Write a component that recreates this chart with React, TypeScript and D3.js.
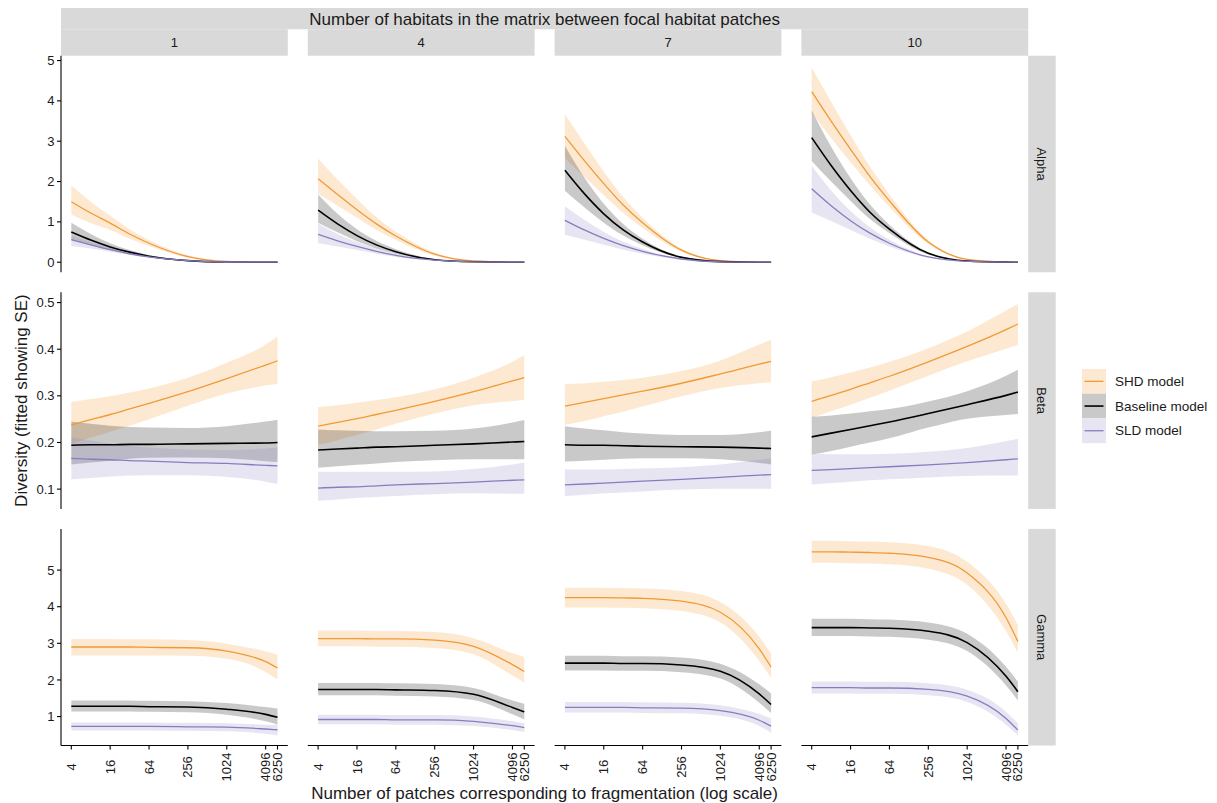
import React from "react";
import * as d3 from "d3";

// ---------------- data ----------------
const PATCHES = [4, 8, 16, 32, 64, 256, 1024, 4096, 6250];
const PATCH_TICKS = [4, 16, 64, 256, 1024, 4096, 6250];
const HABITATS = ["1", "4", "7", "10"];
const METRICS = ["Alpha", "Beta", "Gamma"];
const MODELS = ["SHD model", "Baseline model", "SLD model"];
const ALPHA_TICKS = [0, 1, 2, 3, 4, 5];
const BETA_TICKS = [0.1, 0.2, 0.3, 0.4, 0.5];
const GAMMA_TICKS = [1, 2, 3, 4, 5];

// Alpha — one row per habitat panel (1, 4, 7, 10)
const alphaShdFit = [
  [1.5, 1.22, 0.97, 0.7, 0.47, 0.14, 0.02, 0.0, 0.0],
  [2.07, 1.68, 1.3, 0.95, 0.65, 0.2, 0.03, 0.002, 0.0],
  [3.12, 2.52, 1.95, 1.42, 0.98, 0.3, 0.04, 0.003, 0.0],
  [4.23, 3.5, 2.8, 2.12, 1.52, 0.5, 0.07, 0.005, 0.0],
];
const alphaShdHi = [
  [1.9, 1.5, 1.15, 0.82, 0.55, 0.17, 0.03, 0.0, 0.0],
  [2.57, 2.05, 1.57, 1.12, 0.76, 0.24, 0.04, 0.0, 0.0],
  [3.67, 2.95, 2.25, 1.62, 1.1, 0.34, 0.05, 0.0, 0.0],
  [4.83, 3.98, 3.15, 2.37, 1.68, 0.55, 0.08, 0.006, 0.0],
];
const alphaShdLo = [
  [1.18, 0.97, 0.8, 0.58, 0.4, 0.11, 0.015, 0.0, 0.0],
  [1.7, 1.4, 1.1, 0.8, 0.55, 0.16, 0.02, 0.0, 0.0],
  [2.58, 2.12, 1.66, 1.22, 0.85, 0.26, 0.03, 0.0, 0.0],
  [3.71, 3.08, 2.48, 1.9, 1.37, 0.45, 0.06, 0.004, 0.0],
];
const alphaBaseFit = [
  [0.75, 0.55, 0.38, 0.25, 0.15, 0.04, 0.005, 0.0, 0.0],
  [1.29, 0.95, 0.66, 0.43, 0.26, 0.06, 0.01, 0.0, 0.0],
  [2.28, 1.7, 1.2, 0.8, 0.5, 0.12, 0.015, 0.0, 0.0],
  [3.09, 2.4, 1.78, 1.24, 0.82, 0.22, 0.03, 0.002, 0.0],
];
const alphaBaseHi = [
  [0.98, 0.7, 0.47, 0.3, 0.18, 0.05, 0.01, 0.0, 0.0],
  [1.68, 1.2, 0.82, 0.53, 0.32, 0.08, 0.012, 0.0, 0.0],
  [2.89, 2.1, 1.45, 0.95, 0.58, 0.14, 0.02, 0.0, 0.0],
  [3.76, 2.86, 2.08, 1.43, 0.93, 0.25, 0.035, 0.0, 0.0],
];
const alphaBaseLo = [
  [0.55, 0.42, 0.3, 0.2, 0.12, 0.03, 0.0, 0.0, 0.0],
  [0.98, 0.74, 0.52, 0.34, 0.21, 0.05, 0.008, 0.0, 0.0],
  [1.77, 1.36, 0.98, 0.66, 0.42, 0.1, 0.01, 0.0, 0.0],
  [2.51, 2.0, 1.52, 1.07, 0.72, 0.19, 0.025, 0.0, 0.0],
];
const alphaSldFit = [
  [0.56, 0.43, 0.31, 0.21, 0.13, 0.04, 0.005, 0.0, 0.0],
  [0.69, 0.53, 0.39, 0.27, 0.17, 0.05, 0.008, 0.0, 0.0],
  [1.04, 0.8, 0.59, 0.41, 0.27, 0.08, 0.01, 0.0, 0.0],
  [1.82, 1.4, 1.03, 0.72, 0.47, 0.13, 0.02, 0.0, 0.0],
];
const alphaSldHi = [
  [0.66, 0.5, 0.36, 0.25, 0.15, 0.05, 0.01, 0.0, 0.0],
  [0.96, 0.7, 0.5, 0.34, 0.21, 0.06, 0.01, 0.0, 0.0],
  [1.39, 1.05, 0.75, 0.51, 0.33, 0.09, 0.012, 0.0, 0.0],
  [2.39, 1.78, 1.27, 0.87, 0.56, 0.15, 0.02, 0.0, 0.0],
];
const alphaSldLo = [
  [0.4, 0.34, 0.26, 0.18, 0.11, 0.03, 0.0, 0.0, 0.0],
  [0.47, 0.39, 0.3, 0.21, 0.13, 0.04, 0.005, 0.0, 0.0],
  [0.68, 0.56, 0.43, 0.31, 0.21, 0.06, 0.008, 0.0, 0.0],
  [1.23, 1.02, 0.8, 0.58, 0.39, 0.11, 0.015, 0.0, 0.0],
];

// Beta
const betaShdFit = [
  [0.238, 0.249, 0.26, 0.272, 0.284, 0.309, 0.337, 0.366, 0.375],
  [0.235, 0.243, 0.251, 0.26, 0.269, 0.288, 0.309, 0.332, 0.339],
  [0.278, 0.286, 0.294, 0.302, 0.31, 0.327, 0.347, 0.368, 0.374],
  [0.288, 0.301, 0.314, 0.328, 0.342, 0.373, 0.406, 0.442, 0.454],
];
const betaShdHi = [
  [0.287, 0.293, 0.299, 0.307, 0.316, 0.339, 0.371, 0.41, 0.427],
  [0.276, 0.28, 0.285, 0.291, 0.297, 0.314, 0.339, 0.373, 0.387],
  [0.325, 0.327, 0.33, 0.334, 0.339, 0.353, 0.376, 0.41, 0.42],
  [0.331, 0.34, 0.35, 0.361, 0.373, 0.402, 0.438, 0.483, 0.497],
];
const betaShdLo = [
  [0.197, 0.21, 0.223, 0.236, 0.25, 0.279, 0.305, 0.322, 0.326],
  [0.195, 0.205, 0.216, 0.228, 0.24, 0.262, 0.28, 0.289, 0.291],
  [0.238, 0.246, 0.256, 0.266, 0.277, 0.299, 0.317, 0.327, 0.329],
  [0.253, 0.267, 0.281, 0.296, 0.311, 0.343, 0.374, 0.401, 0.409],
];
const betaBaseFit = [
  [0.194, 0.195, 0.195, 0.196, 0.196, 0.197, 0.198, 0.199, 0.2],
  [0.184, 0.186, 0.188, 0.19, 0.191, 0.194, 0.197, 0.201, 0.202],
  [0.195, 0.194, 0.194, 0.193, 0.192, 0.191, 0.19, 0.188, 0.187],
  [0.212, 0.22, 0.228, 0.236, 0.244, 0.262, 0.281, 0.301, 0.308],
];
const betaBaseHi = [
  [0.245, 0.24, 0.236, 0.233, 0.232, 0.231, 0.235, 0.245, 0.249],
  [0.228, 0.226, 0.225, 0.224, 0.224, 0.225, 0.23, 0.243, 0.248],
  [0.235, 0.23, 0.226, 0.222, 0.219, 0.216, 0.216, 0.222, 0.225],
  [0.255, 0.258, 0.262, 0.267, 0.272, 0.288, 0.31, 0.343, 0.356],
];
const betaBaseLo = [
  [0.153, 0.157, 0.161, 0.165, 0.167, 0.168, 0.166, 0.16, 0.158],
  [0.146, 0.149, 0.152, 0.155, 0.158, 0.162, 0.164, 0.164, 0.164],
  [0.159, 0.161, 0.163, 0.165, 0.166, 0.166, 0.164, 0.156, 0.153],
  [0.174, 0.182, 0.191, 0.2, 0.209, 0.232, 0.251, 0.259, 0.261],
];
const betaSldFit = [
  [0.166, 0.164, 0.163, 0.161, 0.16, 0.157, 0.155, 0.151, 0.15],
  [0.102, 0.104, 0.105, 0.107, 0.109, 0.112, 0.115, 0.119, 0.12],
  [0.109, 0.111, 0.113, 0.115, 0.117, 0.121, 0.125, 0.13, 0.131],
  [0.14, 0.142, 0.144, 0.146, 0.148, 0.152, 0.157, 0.163, 0.165],
];
const betaSldHi = [
  [0.211, 0.204, 0.198, 0.193, 0.189, 0.185, 0.184, 0.187, 0.189],
  [0.137, 0.137, 0.137, 0.137, 0.137, 0.138, 0.143, 0.153, 0.157],
  [0.142, 0.142, 0.142, 0.143, 0.144, 0.147, 0.153, 0.163, 0.166],
  [0.176, 0.175, 0.175, 0.175, 0.176, 0.18, 0.188, 0.203, 0.208],
];
const betaSldLo = [
  [0.121, 0.124, 0.127, 0.129, 0.13, 0.13, 0.126, 0.116, 0.111],
  [0.075, 0.078, 0.081, 0.083, 0.085, 0.089, 0.091, 0.09, 0.09],
  [0.085, 0.088, 0.091, 0.093, 0.095, 0.099, 0.101, 0.101, 0.101],
  [0.11, 0.113, 0.116, 0.119, 0.121, 0.125, 0.128, 0.129, 0.129],
];

// Gamma
const gammaShdFit = [
  [2.9, 2.9, 2.9, 2.9, 2.89, 2.88, 2.79, 2.5, 2.33],
  [3.13, 3.13, 3.13, 3.12, 3.12, 3.09, 2.92, 2.42, 2.23],
  [4.25, 4.25, 4.25, 4.24, 4.23, 4.15, 3.85, 2.85, 2.35],
  [5.5, 5.5, 5.49, 5.48, 5.46, 5.35, 4.92, 3.7, 3.05],
];
const gammaShdHi = [
  [3.12, 3.12, 3.12, 3.11, 3.11, 3.09, 2.99, 2.78, 2.69],
  [3.35, 3.35, 3.35, 3.34, 3.34, 3.31, 3.14, 2.73, 2.63],
  [4.52, 4.52, 4.52, 4.51, 4.5, 4.43, 4.13, 3.18, 2.72],
  [5.8, 5.8, 5.79, 5.78, 5.76, 5.66, 5.23, 4.08, 3.49],
];
const gammaShdLo = [
  [2.67, 2.67, 2.67, 2.67, 2.67, 2.66, 2.58, 2.22, 2.01],
  [2.92, 2.92, 2.92, 2.91, 2.91, 2.87, 2.7, 2.12, 1.93],
  [3.98, 3.98, 3.98, 3.97, 3.96, 3.88, 3.57, 2.52, 2.05],
  [5.2, 5.2, 5.19, 5.18, 5.16, 5.04, 4.6, 3.33, 2.74],
];
const gammaBaseFit = [
  [1.28, 1.28, 1.28, 1.28, 1.27, 1.26, 1.2, 1.06, 0.98],
  [1.74, 1.74, 1.74, 1.74, 1.73, 1.71, 1.61, 1.25, 1.13],
  [2.46, 2.46, 2.46, 2.45, 2.45, 2.41, 2.24, 1.62, 1.33],
  [3.43, 3.43, 3.43, 3.42, 3.41, 3.33, 3.02, 2.1, 1.68],
];
const gammaBaseHi = [
  [1.44, 1.44, 1.44, 1.44, 1.43, 1.42, 1.37, 1.26, 1.22],
  [1.92, 1.92, 1.92, 1.92, 1.91, 1.89, 1.78, 1.44, 1.35],
  [2.66, 2.66, 2.66, 2.65, 2.65, 2.61, 2.44, 1.88, 1.63],
  [3.67, 3.67, 3.67, 3.66, 3.65, 3.57, 3.26, 2.36, 1.95],
];
const gammaBaseLo = [
  [1.14, 1.14, 1.14, 1.14, 1.13, 1.12, 1.05, 0.87, 0.78],
  [1.58, 1.58, 1.58, 1.58, 1.57, 1.55, 1.45, 1.06, 0.92],
  [2.26, 2.26, 2.26, 2.25, 2.25, 2.21, 2.04, 1.38, 1.1],
  [3.2, 3.2, 3.2, 3.19, 3.18, 3.1, 2.79, 1.85, 1.44],
];
const gammaSldFit = [
  [0.73, 0.73, 0.73, 0.73, 0.73, 0.72, 0.71, 0.66, 0.64],
  [0.92, 0.92, 0.92, 0.92, 0.91, 0.91, 0.87, 0.75, 0.7],
  [1.25, 1.25, 1.25, 1.25, 1.24, 1.23, 1.16, 0.9, 0.74],
  [1.79, 1.79, 1.79, 1.78, 1.78, 1.74, 1.56, 0.95, 0.63],
];
const gammaSldHi = [
  [0.84, 0.84, 0.84, 0.84, 0.84, 0.83, 0.82, 0.78, 0.77],
  [1.05, 1.05, 1.05, 1.05, 1.04, 1.04, 1.0, 0.87, 0.82],
  [1.4, 1.4, 1.4, 1.4, 1.39, 1.38, 1.31, 1.07, 0.95],
  [1.96, 1.96, 1.96, 1.95, 1.95, 1.91, 1.73, 1.13, 0.81],
];
const gammaSldLo = [
  [0.62, 0.62, 0.62, 0.62, 0.62, 0.61, 0.6, 0.53, 0.49],
  [0.79, 0.79, 0.79, 0.79, 0.78, 0.78, 0.74, 0.63, 0.58],
  [1.11, 1.11, 1.11, 1.11, 1.1, 1.09, 1.02, 0.74, 0.56],
  [1.63, 1.63, 1.63, 1.62, 1.62, 1.58, 1.4, 0.78, 0.49],
];

// ---------------- assembled tables ----------------
const SERIES: Record<string, Record<string, { fit: number[][]; lo: number[][]; hi: number[][] }>> = {
  Alpha: {
    "SHD model": { fit: alphaShdFit, lo: alphaShdLo, hi: alphaShdHi },
    "Baseline model": { fit: alphaBaseFit, lo: alphaBaseLo, hi: alphaBaseHi },
    "SLD model": { fit: alphaSldFit, lo: alphaSldLo, hi: alphaSldHi },
  },
  Beta: {
    "SHD model": { fit: betaShdFit, lo: betaShdLo, hi: betaShdHi },
    "Baseline model": { fit: betaBaseFit, lo: betaBaseLo, hi: betaBaseHi },
    "SLD model": { fit: betaSldFit, lo: betaSldLo, hi: betaSldHi },
  },
  Gamma: {
    "SHD model": { fit: gammaShdFit, lo: gammaShdLo, hi: gammaShdHi },
    "Baseline model": { fit: gammaBaseFit, lo: gammaBaseLo, hi: gammaBaseHi },
    "SLD model": { fit: gammaSldFit, lo: gammaSldLo, hi: gammaSldHi },
  },
};
const Y_TICKS: Record<string, number[]> = { Alpha: ALPHA_TICKS, Beta: BETA_TICKS, Gamma: GAMMA_TICKS };

// ---------------- layout & style ----------------
const W = 1217;
const H = 803;
const LEFT = 61;
const PANEL_W = 226.8;
const GAP_X = 20;
const TOP = 55.7;
const PANEL_H = 216.6;
const GAP_Y = 20;
const Y_DOMAINS: Record<string, [number, number]> = {
  Alpha: [-0.25, 5.12],
  Beta: [0.0576, 0.522],
  Gamma: [0.21, 6.125],
};
const STYLE: Record<string, { line: string; band: string; bandOpacity: number; width: number }> = {
  "SHD model": { line: "#F09A36", band: "#F7A94E", bandOpacity: 0.26, width: 1.3 },
  "Baseline model": { line: "#000000", band: "#000000", bandOpacity: 0.21, width: 1.6 },
  "SLD model": { line: "#8A7BC0", band: "#8C7DC0", bandOpacity: 0.2, width: 1.3 },
};
const FONT = "'Liberation Sans', Arial, Helvetica, sans-serif";
const STRIP = "#D9D9D9";
const TEXT = "#1A1A1A";

const xScale = d3
  .scaleLog()
  .base(2)
  .domain([4 / Math.pow(2, 0.53), 6250 * Math.pow(2, 0.53)])
  .range([0, PANEL_W]);

function Panel({ metric, col }: { metric: string; col: number }) {
  const y = d3.scaleLinear().domain(Y_DOMAINS[metric]).range([PANEL_H, 0]);
  const area = d3
    .area<number>()
    .x((_, i) => xScale(PATCHES[i]))
    .curve(d3.curveMonotoneX);
  const line = d3
    .line<number>()
    .x((_, i) => xScale(PATCHES[i]))
    .y((d) => y(d))
    .curve(d3.curveMonotoneX);
  const order = ["SHD model", "Baseline model", "SLD model"];
  return (
    <g>
      {order.map((m) => {
        const s = SERIES[metric][m];
        const lo = s.lo[col];
        const hi = s.hi[col];
        const a = area.y0((_, i) => y(lo[i])).y1((_, i) => y(hi[i]));
        return (
          <path key={"b" + m} d={a(lo) || ""} fill={STYLE[m].band} fillOpacity={STYLE[m].bandOpacity} stroke="none" />
        );
      })}
      {order.map((m) => (
        <path
          key={"l" + m}
          d={line(SERIES[metric][m].fit[col]) || ""}
          fill="none"
          stroke={STYLE[m].line}
          strokeWidth={STYLE[m].width}
        />
      ))}
    </g>
  );
}

export default function App() {
  const rows = METRICS.map((m, r) => ({ metric: m, top: TOP + r * (PANEL_H + GAP_Y) }));
  const cols = HABITATS.map((h, c) => ({ hab: h, left: LEFT + c * (PANEL_W + GAP_X) }));
  const rightEdge = LEFT + 4 * PANEL_W + 3 * GAP_X;
  const bottom = TOP + 3 * PANEL_H + 2 * GAP_Y;
  const legendX = 1082;
  const legendY = 369;
  const keyH = 24.7;

  return (
    <svg
      width={W}
      height={H}
      style={{ position: "absolute", left: 0, top: 0, background: "#fff" }}
      fontFamily={FONT}
    >
      <rect x={0} y={0} width={W} height={H} fill="#fff" />
      {/* top overall strip */}
      <rect x={LEFT} y={8} width={rightEdge - LEFT} height={21.3} fill={STRIP} />
      <text x={(LEFT + rightEdge) / 2} y={24.5} textAnchor="middle" fontSize={17} fill={TEXT}>
        Number of habitats in the matrix between focal habitat patches
      </text>
      {/* column strips */}
      {cols.map((c) => (
        <g key={"cs" + c.hab}>
          <rect x={c.left} y={29.3} width={PANEL_W} height={TOP - 29.3} fill={STRIP} />
          <text x={c.left + PANEL_W / 2} y={47.2} textAnchor="middle" fontSize={13} fill={TEXT}>
            {c.hab}
          </text>
        </g>
      ))}
      {/* row strips */}
      {rows.map((r) => (
        <g key={"rs" + r.metric}>
          <rect x={rightEdge} y={r.top} width={27.5} height={PANEL_H} fill={STRIP} />
          <text
            transform={`translate(${rightEdge + 13.75},${r.top + PANEL_H / 2}) rotate(90)`}
            textAnchor="middle"
            dy="0.35em"
            fontSize={13}
            fill={TEXT}
          >
            {r.metric}
          </text>
        </g>
      ))}
      {/* panels */}
      {rows.map((r) =>
        cols.map((c, ci) => (
          <g key={r.metric + c.hab} transform={`translate(${c.left},${r.top})`}>
            <Panel metric={r.metric} col={ci} />
          </g>
        ))
      )}
      {/* y axes */}
      {rows.map((r) => {
        const y = d3.scaleLinear().domain(Y_DOMAINS[r.metric]).range([PANEL_H, 0]);
        return (
          <g key={"ya" + r.metric} transform={`translate(${LEFT},${r.top})`}>
            <line x1={0} x2={0} y1={0} y2={PANEL_H} stroke="#000" strokeWidth={1.1} />
            {Y_TICKS[r.metric].map((t) => (
              <g key={t} transform={`translate(0,${y(t)})`}>
                <line x1={-4} x2={0} stroke="#000" strokeWidth={1.1} />
                <text x={-6.5} dy="0.35em" textAnchor="end" fontSize={13} fill={TEXT}>
                  {r.metric === "Beta" ? t.toFixed(1) : String(t)}
                </text>
              </g>
            ))}
          </g>
        );
      })}
      {/* x axes */}
      {cols.map((c) => (
        <g key={"xa" + c.hab} transform={`translate(${c.left},${bottom})`}>
          <line x1={0} x2={PANEL_W} y1={0} y2={0} stroke="#000" strokeWidth={1.1} />
          {PATCH_TICKS.map((t) => (
            <g key={t} transform={`translate(${xScale(t)},0)`}>
              <line y1={0} y2={4} stroke="#000" strokeWidth={1.1} />
              <text
                transform={`translate(0,${21.5}) rotate(-90)`}
                textAnchor="middle"
                dy="0.35em"
                fontSize={13}
                fill={TEXT}
              >
                {t}
              </text>
            </g>
          ))}
        </g>
      ))}
      {/* axis titles */}
      <text x={(LEFT + rightEdge) / 2} y={799} textAnchor="middle" fontSize={17} fill={TEXT}>
        Number of patches corresponding to fragmentation (log scale)
      </text>
      <text
        transform={`translate(21,${(TOP + bottom) / 2}) rotate(-90)`}
        textAnchor="middle"
        dy="0.35em"
        fontSize={17}
        fill={TEXT}
      >
        Diversity (fitted showing SE)
      </text>
      {/* legend */}
      {MODELS.map((m, i) => (
        <g key={"lg" + m} transform={`translate(${legendX},${legendY + i * keyH})`}>
          <rect width={24} height={keyH} fill="#fff" />
          <rect width={24} height={keyH} fill={STYLE[m].band} fillOpacity={STYLE[m].bandOpacity} />
          <line x1={2.5} x2={21.5} y1={keyH / 2} y2={keyH / 2} stroke={STYLE[m].line} strokeWidth={STYLE[m].width} />
          <text x={33} y={keyH / 2} dy="0.35em" fontSize={13.5} fill={TEXT}>
            {m}
          </text>
        </g>
      ))}
    </svg>
  );
}
